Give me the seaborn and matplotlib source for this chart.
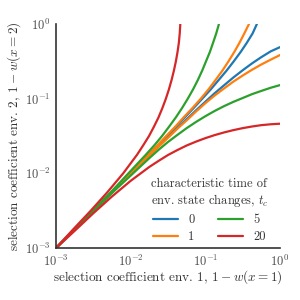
import pandas as pd
import matplotlib
matplotlib.use("Agg")
import matplotlib.pyplot as plt
import seaborn as sns

# selection coefficient in env. 1 (x positions)
s_env1 = [0.001, 0.00178, 0.00316, 0.00562, 0.01, 0.0178, 0.0237, 0.0316, 0.0422, 0.0562,
          0.075, 0.1, 0.133, 0.178, 0.237, 0.316, 0.422, 0.562, 0.75, 1.0]

# lower branch: selection coefficient in env. 2 at each s_env1 value
# (upper branch is the same curve mirrored, env. 1 <-> env. 2)
s_env2_tc0 = [0.001, 0.00178, 0.00315, 0.0056, 0.0099, 0.0175, 0.0232, 0.0306, 0.0405, 0.053,
              0.0698, 0.091, 0.118, 0.151, 0.192, 0.24, 0.297, 0.36, 0.43, 0.49]
s_env2_tc1 = [0.001, 0.00177, 0.00315, 0.00557, 0.00982, 0.0172, 0.0228, 0.0299, 0.0396, 0.0512,
              0.0673, 0.0869, 0.110, 0.137, 0.169, 0.204, 0.244, 0.287, 0.333, 0.384]
s_env2_tc5 = [0.001, 0.00177, 0.00309, 0.00545, 0.00933, 0.016, 0.0207, 0.0263, 0.0327, 0.0403,
              0.0488, 0.0582, 0.0684, 0.0794, 0.0906, 0.102, 0.115, 0.127, 0.140, 0.152]
s_env2_tc20 = [0.001, 0.0017, 0.00292, 0.0049, 0.00794, 0.0122, 0.0147, 0.0176, 0.0205, 0.0236,
               0.0266, 0.0296, 0.0325, 0.0353, 0.0379, 0.0403, 0.0424, 0.0442, 0.0454, 0.0462]

tc_labels = ["0", "1", "5", "20"]
tc_colors = ["#1f77b4", "#ff7f0e", "#2ca02c", "#d62728"]

tick_values = [1e-3, 1e-2, 1e-1, 1e0]
tick_labels = [r"$10^{-3}$", r"$10^{-2}$", r"$10^{-1}$", r"$10^{0}$"]

sns.set_theme(style="ticks")
plt.rcParams['font.family'] = 'serif'
plt.rcParams['font.serif'] = ['cmr10']
plt.rcParams['mathtext.fontset'] = 'cm'
plt.rcParams['axes.formatter.use_mathtext'] = True

curves = [s_env2_tc0, s_env2_tc1, s_env2_tc5, s_env2_tc20]
rows = []
for lab, vals in zip(tc_labels, curves):
    for a, b in zip(s_env1, vals):
        rows.append({'s1': a, 's2': b, 'tc': lab, 'branch': 'low'})
    for a, b in zip(s_env1, vals):
        rows.append({'s1': b, 's2': a, 'tc': lab, 'branch': 'high'})
df = pd.DataFrame(rows)

fig = plt.figure(figsize=(3, 3), dpi=100)
ax = fig.add_axes([0.1867, 0.1733, 0.7467, 0.7467])

sns.lineplot(data=df, x='s1', y='s2', hue='tc', units='branch', estimator=None,
             sort=False, palette=dict(zip(tc_labels, tc_colors)), lw=1.6, ax=ax)

ax.set_xscale('log')
ax.set_yscale('log')
ax.set_xlim(1e-3, 1)
ax.set_ylim(1e-3, 1)
ax.minorticks_off()
ax.set_xticks(tick_values)
ax.set_xticklabels(tick_labels)
ax.set_yticks(tick_values)
ax.set_yticklabels(tick_labels)
ax.tick_params(length=0, labelsize=9, colors='.3')
ax.tick_params(axis='x', pad=4)
ax.tick_params(axis='y', pad=4)

ax.set_xlabel(r"selection coefficient env. 1, $1-w(x=1)$", fontsize=9.5, color='.2', labelpad=0)
ax.set_ylabel(r"selection coefficient env. 2, $1-w(x=2)$", fontsize=9.5, color='.2', labelpad=1)

sns.despine(ax=ax)
for side in ['left', 'bottom']:
    ax.spines[side].set_linewidth(1.2)
    ax.spines[side].set_color('.2')

sns.move_legend(ax, "upper left", bbox_to_anchor=(0.372, 0.365), ncol=2, frameon=False,
                title="characteristic time of\nenv. state changes, $t_c$",
                fontsize=9, title_fontsize=9, handlelength=2.0,
                columnspacing=1.9, labelspacing=0.4, handletextpad=0.8)
plt.setp(ax.get_legend().get_texts(), color='.2')
plt.setp(ax.get_legend().get_title(), color='.2')

fig.savefig('out.png', dpi=100)
